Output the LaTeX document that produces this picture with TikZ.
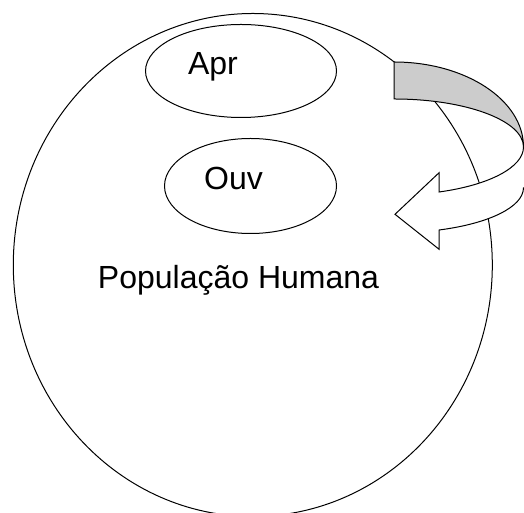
\documentclass[tikz,border=0pt]{standalone}
\usepackage{fontspec}
\setmainfont{Liberation Sans}
\usetikzlibrary{shapes.geometric}
\definecolor{bandgray}{HTML}{CCCCCC}
\tikzset{
  outline/.style={draw=black, line width=1pt},
  oval/.style={outline, ellipse, inner sep=0pt, outer sep=0pt},
  label text/.style={inner sep=0pt, anchor=base, font=\fontsize{32}{32}\selectfont},
  band back/.style={outline, fill=bandgray, line join=miter},
  band front/.style={outline, fill=white, line join=miter},
}
\begin{document}
\begin{tikzpicture}[x=1pt, y=1pt]
  \useasboundingbox (0,0) rectangle (524,513);
  \clip (0,0) rectangle (524,513);

  % population and its two groups
  \node[oval, minimum width=479pt, minimum height=503pt] (pop) at (252.8,248) {};
  \node[oval, minimum width=191pt, minimum height=93pt] (apr) at (241,442) {};
  \node[oval, minimum width=172pt, minimum height=95pt] (ouv) at (250.5,327) {};

  \node[label text] (aprtext) at (213,438) {Apr};
  \node[label text] (ouvtext) at (233.5,323) {Ouv};
  \node[label text] (poptext) at (238.5,224) {População Humana};

  % curved arrow: shaded back of the band
  \coordinate (bandtop) at (394,451);
  \draw[band back] (bandtop)
    arc[start angle=90, end angle=0, x radius=129.5pt, y radius=85pt]
    arc[start angle=0, end angle=90, x radius=129.5pt, y radius=48pt]
    -- cycle;

  % curved arrow: front of the band with its head; the closing edge lies
  % just past the right border of the picture
  \coordinate (bandtip) at (523.5,366);
  \draw[band front] (bandtip)
    arc[start angle=0, end angle=-69.6, x radius=129.5pt, y radius=48pt]
    -- (439.1,340.3) -- (395,298.7) -- (439.1,263.7) -- (439.1,283)
    arc[start angle=-69.6, end angle=0, x radius=129.5pt, y radius=45pt]
    -- (527,325) -- (527,366) -- cycle;
\end{tikzpicture}
\end{document}
